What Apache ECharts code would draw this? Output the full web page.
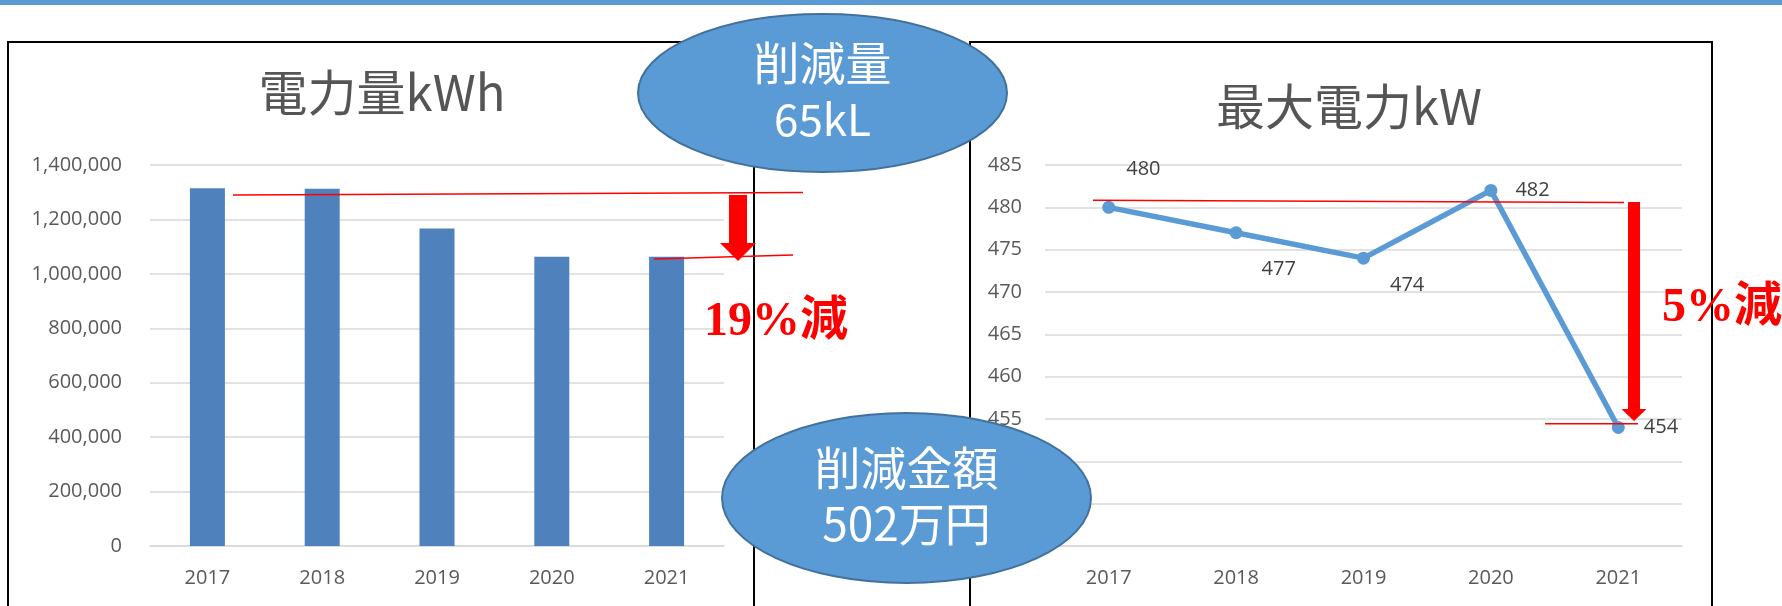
<!DOCTYPE html>
<html>
<head>
<meta charset="utf-8">
<script src="https://cdn.jsdelivr.net/npm/echarts@6/dist/echarts.min.js"></script>
<style>
  html, body { margin: 0; padding: 0; background: #fff; }
  #chart { width: 1782px; height: 606px; }
</style>
</head>
<body>
<div id="chart"></div>
<script>
// data
const years = ["2017", "2018", "2019", "2020", "2021"];
const energyKwh = [1315000, 1313000, 1167000, 1063000, 1063000];
const peakKw = [480, 477, 474, 482, 454];
const energyTicks = [0, 1400000, 200000]; // min, max, step
const peakTicks = [440, 485, 5];

// label nudges for the line chart (px), Excel puts them a bit off
const peakLabelOffset = [[6, -38], [14, 37], [15, 27], [13, 0], [14, 0]];

const axisFont = "'Open Sans', 'Noto Sans', sans-serif";
const cjkFont = "'Noto Sans CJK JP', 'Noto Sans', sans-serif";
const gridColor = "#D9D9D9";

const chart = echarts.init(document.getElementById("chart"));

function catAxis(gridIndex) {
  return {
    type: "category",
    gridIndex: gridIndex,
    data: years,
    axisTick: { show: false },
    axisLine: { lineStyle: { color: gridColor, width: 1.5 } },
    axisLabel: { color: "#595959", fontSize: 20, fontFamily: axisFont, margin: 22 }
  };
}

function valAxis(gridIndex, ticks, margin) {
  return {
    type: "value",
    gridIndex: gridIndex,
    min: ticks[0],
    max: ticks[1],
    interval: ticks[2],
    axisLine: { show: false },
    axisTick: { show: false },
    splitLine: { lineStyle: { color: gridColor, width: 1.5 } },
    axisLabel: {
      color: "#595959",
      fontSize: 20,
      fontFamily: axisFont,
      margin: margin,
      formatter: v => v.toLocaleString("en-US")
    }
  };
}

// red hand-drawn annotations
function redLine(x1, y1, x2, y2) {
  return { type: "line", z: 50, shape: { x1, y1, x2, y2 }, style: { stroke: "#FF0000", lineWidth: 1.5 } };
}
function downArrow(cx, y0, yHead, yTip, shaftW, headW) {
  return {
    type: "polygon",
    z: 50,
    shape: {
      points: [
        [cx - shaftW / 2, y0], [cx + shaftW / 2, y0], [cx + shaftW / 2, yHead],
        [cx + headW / 2, yHead], [cx, yTip], [cx - headW / 2, yHead], [cx - shaftW / 2, yHead]
      ]
    },
    style: { fill: "#FF0000" }
  };
}
function bubble(cx, cy, rx, ry, line1, line2, size2) {
  return [
    {
      type: "ellipse", z: 100,
      shape: { cx, cy, rx, ry },
      style: { fill: "#5B9BD5", stroke: "#41719C", lineWidth: 2 }
    },
    {
      type: "text", z: 101, x: cx, y: cy - 30,
      style: { text: line1, fill: "#fff", font: "46px " + cjkFont, align: "center", verticalAlign: "middle" }
    },
    {
      type: "text", z: 101, x: cx, y: cy + 26,
      style: { text: line2, fill: "#fff", font: size2 + "px " + cjkFont, align: "center", verticalAlign: "middle" }
    }
  ];
}

chart.setOption({
  backgroundColor: "#fff",
  animation: false,
  title: [
    {
      text: "電力量kWh", left: 382, top: 68, textAlign: "center", padding: 0,
      textStyle: { color: "#555555", fontSize: 49, fontWeight: "normal", fontFamily: cjkFont }
    },
    {
      text: "最大電力kW", left: 1349, top: 82, textAlign: "center", padding: 0,
      textStyle: { color: "#555555", fontSize: 49, fontWeight: "normal", fontFamily: cjkFont }
    }
  ],
  grid: [
    { left: 150, top: 165, width: 574, height: 381 },
    { left: 1045, top: 165, width: 637, height: 381 }
  ],
  xAxis: [catAxis(0), catAxis(1)],
  yAxis: [valAxis(0, energyTicks, 28), valAxis(1, peakTicks, 23)],
  series: [
    {
      type: "bar",
      xAxisIndex: 0,
      yAxisIndex: 0,
      data: energyKwh,
      barWidth: 35,
      itemStyle: { color: "#4F81BD" }
    },
    {
      type: "line",
      xAxisIndex: 1,
      yAxisIndex: 1,
      data: peakKw.map((v, i) => ({
        value: v,
        label: { offset: peakLabelOffset[i] }
      })),
      symbol: "circle",
      symbolSize: 13,
      lineStyle: { color: "#5B9BD5", width: 5.5 },
      itemStyle: { color: "#5B9BD5" },
      label: {
        show: true,
        position: "right",
        color: "#404040",
        fontSize: 20,
        fontFamily: axisFont
      }
    }
  ],
  graphic: [
    { type: "rect", z: 1, shape: { x: 0, y: 0, width: 1782, height: 5 }, style: { fill: "#5B9BD5" } },
    { type: "rect", z: 1, shape: { x: 8, y: 42, width: 746, height: 600 }, style: { fill: "none", stroke: "#000", lineWidth: 2 } },
    { type: "rect", z: 1, shape: { x: 970, y: 42, width: 742, height: 600 }, style: { fill: "none", stroke: "#000", lineWidth: 2 } },

    redLine(233, 195, 803, 192.5),
    redLine(654, 259, 793, 255),
    downArrow(738, 195, 243, 261, 18, 36),
    {
      type: "text", z: 50, x: 776, y: 323,
      style: { text: "19%減", fill: "#FF0000", font: "bold 48px 'Liberation Serif', " + cjkFont, align: "center", verticalAlign: "middle" }
    },

    redLine(1093, 200.3, 1624, 202.5),
    redLine(1545, 423.7, 1638, 423.7),
    downArrow(1634, 202, 409, 421, 12, 25),
    {
      type: "text", z: 50, x: 1722, y: 309,
      style: { text: "5%減", fill: "#FF0000", font: "bold 48px 'Liberation Serif', " + cjkFont, align: "center", verticalAlign: "middle" }
    },

    ...bubble(822.5, 93, 184.5, 79, "削減量", "65kL", 44),
    ...bubble(906.5, 498, 184.5, 85, "削減金額", "502万円", 46)
  ]
});
</script>
</body>
</html>
